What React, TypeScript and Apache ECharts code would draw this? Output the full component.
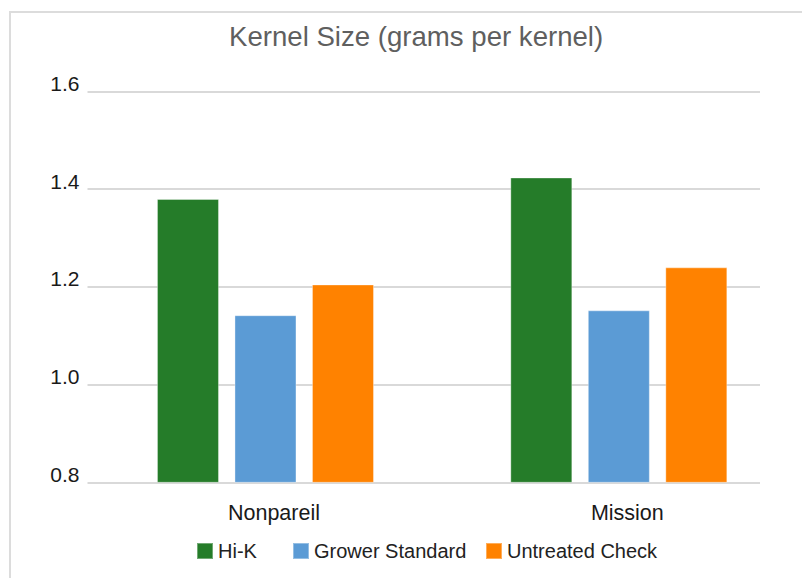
import React, { useEffect, useRef } from "react";
import * as echarts from "echarts";

const categories = ["Nonpareil", "Mission"];
const seriesNames = ["Hi-K", "Grower Standard", "Untreated Check"];
const hiK = [1.38, 1.424];
const growerStandard = [1.142, 1.152];
const untreatedCheck = [1.205, 1.24];
const yMin = 0.8;
const yMax = 1.6;
const yInterval = 0.2;
const colors = ["#257C29", "#5B9BD5", "#FF8200"];

const FONT = "'Liberation Sans', Arial, Helvetica, sans-serif";

export default function App() {
  const ref = useRef<HTMLDivElement>(null);

  useEffect(() => {
    document.body.style.margin = "0";
    if (!ref.current) return;
    const chart = echarts.init(ref.current, undefined, { renderer: "svg" });
    const values = [hiK, growerStandard, untreatedCheck];
    const legendLefts = [196, 292, 485];

    chart.setOption({
      animation: false,
      backgroundColor: "#ffffff",
      title: {
        text: "Kernel Size (grams per kernel)",
        left: 229,
        top: 22.5,
        padding: 0,
        textStyle: {
          fontFamily: FONT,
          fontSize: 27.6,
          fontWeight: "normal",
          color: "#5f5f5f",
          lineHeight: 27.6,
        },
      },
      graphic: [
        {
          type: "rect",
          shape: { x: 10, y: 12, width: 1000, height: 1000 },
          style: { fill: "none", stroke: "#dcdcdc", lineWidth: 2 },
          silent: true,
          z: -10,
        },
      ],
      legend: seriesNames.map((name, i) => ({
        data: [name],
        left: legendLefts[i],
        top: 541,
        padding: 0,
        itemWidth: 16,
        itemHeight: 16,
        icon: "rect",
        selectedMode: false,
        textStyle: {
          fontFamily: FONT,
          fontSize: 20,
          color: "#222222",
          lineHeight: 20,
        },
      })),
      grid: [
        { left: 87.5, right: 42, top: 91.5, bottom: 95.7 },
        { left: 88.8, right: 6.5, top: 91.5, bottom: 95.7 },
      ],
      xAxis: [
        {
          type: "category",
          gridIndex: 0,
          data: categories,
          show: false,
        },
        {
          type: "category",
          gridIndex: 1,
          data: categories,
          axisLine: { show: false },
          axisTick: { show: false },
          splitLine: { show: false },
          axisLabel: {
            margin: 20,
            padding: [0, 0, 0, 17],
            fontFamily: FONT,
            fontSize: 21.5,
            lineHeight: 21.5,
            color: "#1a1a1a",
          },
        },
      ],
      yAxis: [
        {
          type: "value",
          gridIndex: 0,
          min: yMin,
          max: yMax,
          interval: yInterval,
          axisLine: { show: false },
          axisTick: { show: false },
          splitLine: { show: true, lineStyle: { color: "#d9d9d9", width: 2 } },
          axisLabel: {
            margin: 8,
            fontFamily: FONT,
            fontSize: 21,
            lineHeight: 16,
            verticalAlign: "bottom",
            color: "#1a1a1a",
            formatter: (v: number) => v.toFixed(1),
          },
        },
        {
          type: "value",
          gridIndex: 1,
          min: yMin,
          max: yMax,
          interval: yInterval,
          show: false,
          splitLine: { show: false },
        },
      ],
      series: seriesNames.map((name, i) => ({
        name,
        type: "bar",
        xAxisIndex: 1,
        yAxisIndex: 1,
        data: values[i],
        barWidth: 62,
        barGap: "25%",
        itemStyle: {
          color: colors[i],
          borderColor: "rgba(255,255,255,0.35)",
          borderWidth: 1,
        },
        emphasis: { disabled: true },
      })),
    });

    return () => {
      chart.dispose();
    };
  }, []);

  return <div ref={ref} style={{ width: 802, height: 578 }} />;
}
